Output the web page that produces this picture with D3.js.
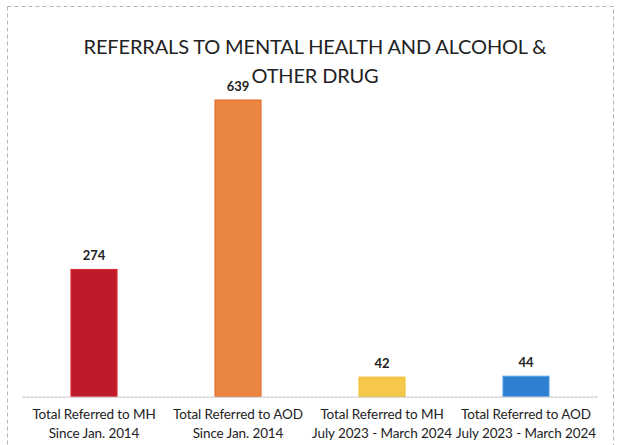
<!DOCTYPE html>
<html>
<head>
<meta charset="utf-8">
<script src="https://cdn.jsdelivr.net/npm/d3@7"></script>
<style>
  html, body { margin: 0; padding: 0; background: #fff; }
  svg { display: block; }
  text { font-family: Lato, "Noto Sans", sans-serif; fill: #222; }
</style>
</head>
<body>
<svg id="chart" width="618" height="445"></svg>
<script>
// ---- data ----
const titleLines = ["REFERRALS TO MENTAL HEALTH AND ALCOHOL &", "OTHER DRUG"];
const categories = [
  ["Total Referred to MH", "Since Jan. 2014"],
  ["Total Referred to AOD", "Since Jan. 2014"],
  ["Total Referred to MH", "July 2023 - March 2024"],
  ["Total Referred to AOD", "July 2023 - March 2024"]
];
const values = [274, 639, 42, 44];
const barColors = ["#BE1A2C", "#EA8640", "#F6C84A", "#2F7FD3"];
const barStrokes = ["#D8262F", "#E7652A", "#F2BE3A", "#5AA2E8"];

// ---- layout ----
const W = 618, H = 445;
const plot = { left: 22, right: 598, top: 71.7, bottom: 396.6 };
const svg = d3.select("#chart");

const keys = categories.map((c, i) => String(i));
const x = d3.scaleBand().domain(keys).range([plot.left, plot.right])
  .paddingInner(0.68).paddingOuter(0.34);
const y = d3.scaleLinear().domain([0, 700]).range([plot.bottom, plot.top]);

// outer dashed border (scanned page frame)
svg.append("rect")
  .attr("x", 7.5).attr("y", 6.5).attr("width", 606).attr("height", 460)
  .attr("fill", "none").attr("stroke", "#b5b5b5").attr("stroke-width", 1)
  .attr("stroke-dasharray", "4,3");

// title
svg.append("g").selectAll("text").data(titleLines).join("text")
  .attr("x", 315).attr("y", (d, i) => 54 + i * 29)
  .attr("text-anchor", "middle")
  .attr("font-size", 20)
  .attr("letter-spacing", -0.15)
  .attr("fill", "#1e1e1e")
  .text(d => d);

// bars
svg.append("g").selectAll("rect").data(values).join("rect")
  .attr("x", (d, i) => x(keys[i]))
  .attr("y", d => y(d))
  .attr("width", x.bandwidth())
  .attr("height", d => y(0) - y(d))
  .attr("fill", (d, i) => barColors[i])
  .attr("stroke", (d, i) => barStrokes[i])
  .attr("stroke-width", 1);

// axis baseline
const xAxis = d3.axisBottom(x).tickSize(0).tickFormat("");
const gx = svg.append("g").attr("transform", `translate(0,${y(0)})`).call(xAxis);
gx.select(".domain").attr("stroke", "#c4c4c4").attr("stroke-width", 1.2)
  .attr("stroke-dasharray", "3,1");

// category labels (two lines)
const lab = svg.append("g").selectAll("text").data(categories).join("text")
  .attr("text-anchor", "middle")
  .attr("font-size", 13.5)
  .attr("letter-spacing", -0.1)
  .attr("fill", "#222");
lab.each(function(d, i) {
  const cx = x(keys[i]) + x.bandwidth() / 2;
  d3.select(this).selectAll("tspan").data(d).join("tspan")
    .attr("x", cx)
    .attr("y", (t, j) => 419 + j * 18.5)
    .text(t => t);
});

// value labels
svg.append("g").selectAll("text").data(values).join("text")
  .attr("x", (d, i) => x(keys[i]) + x.bandwidth() / 2)
  .attr("y", d => y(d) - 9)
  .attr("text-anchor", "middle")
  .attr("font-size", 13)
  .attr("font-weight", "bold")
  .attr("fill", "#222")
  .text(d => d);
</script>
</body>
</html>
